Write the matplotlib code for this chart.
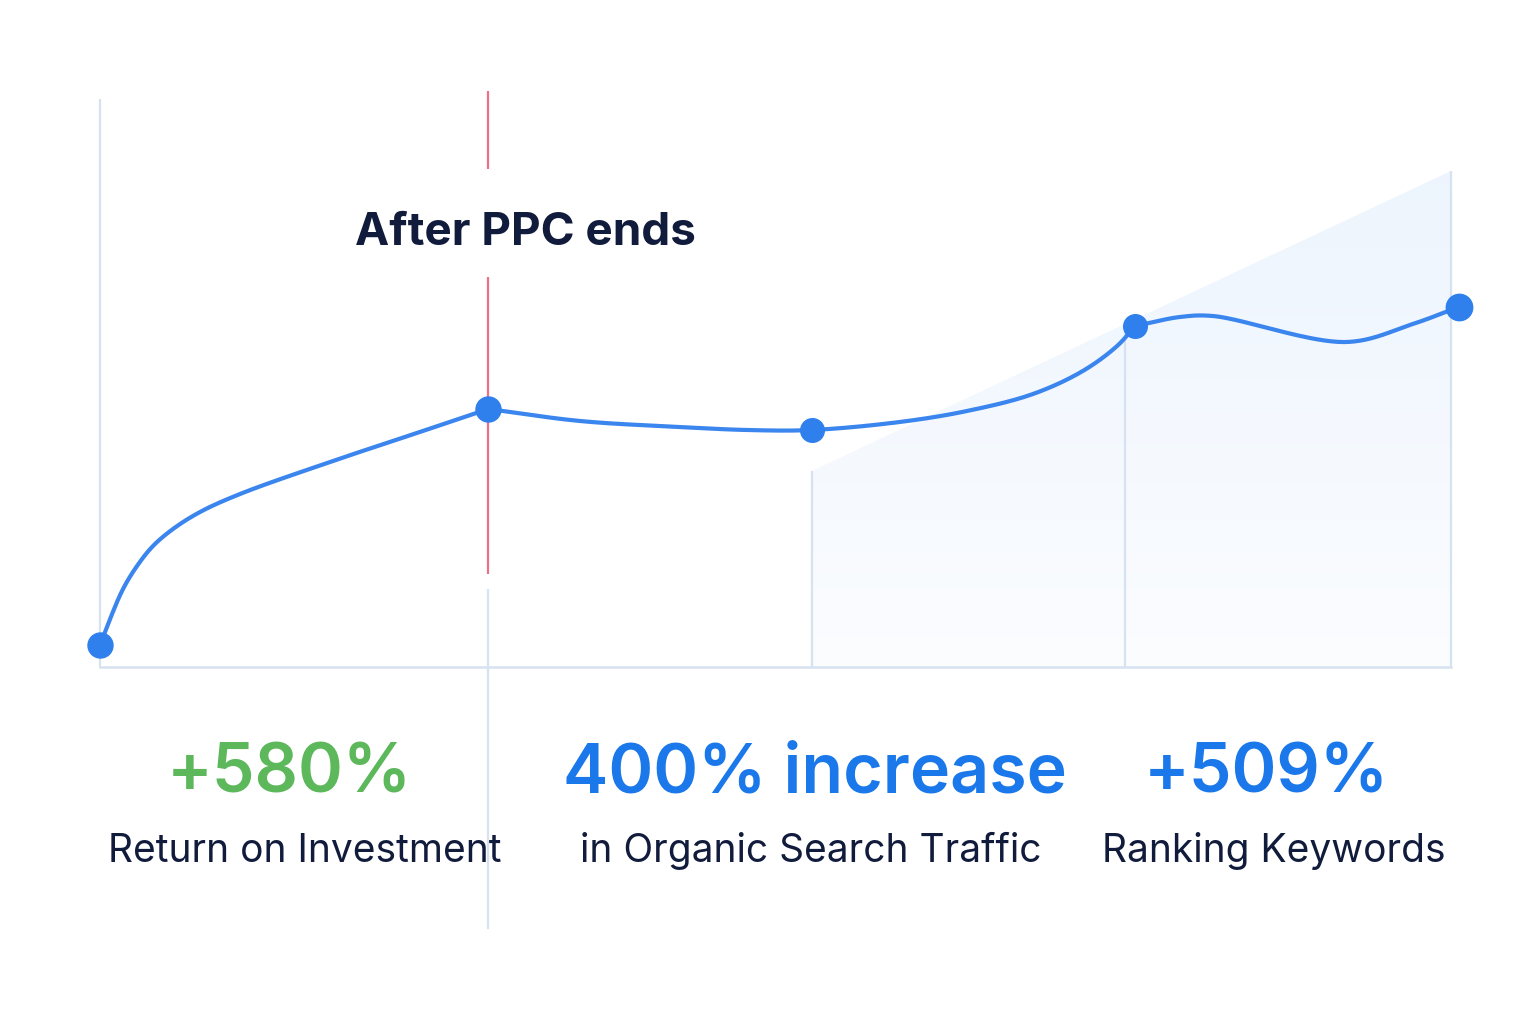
import numpy as np
import matplotlib
matplotlib.use('Agg')
import matplotlib.pyplot as plt
from matplotlib.patches import Polygon

''' data (x in months, y as traffic index)
'''
stage_x = [0, 6, 11, 16, 21]
stage_y = [5.5, 64.5, 59.25, 85.25, 90.0]
marker_sizes = [18, 18, 17, 17, 19]

# curve trace
curve_x = [0, 0.155, 0.356, 0.572, 0.819, 1.128, 1.546, 2.164, 3.555, 4.99, 6,
           7.42, 8.96, 10.0, 11, 12.36, 13.40, 14.42, 15.19, 15.72, 16,
           16.69, 17.2, 19.27, 20.29, 21]
curve_y = [5.5, 12.0, 19.5, 25.25, 30.25, 34.5, 38.75, 43.25, 51.25, 59.0, 64.5,
           61.5, 60.0, 59.25, 59.25, 61.25, 64.0, 68.25, 74.0, 80.25, 85.25,
           87.5, 87.75, 81.25, 85.75, 90.0]
# stages where the curve turns sharply
corner_x = [6, 16]

# projected organic trend (shaded area)
trend_x = [11, 20.88]
trend_y = [49.0, 124.0]

# gray guide lines: x, bottom, top
guide_x = [0, 6, 11, 15.85, 20.88]
guide_lo = [0, -65.5, 0, 0, 0]
guide_hi = [142, 19.5, 49.0, 84.5, 124.0]
baseline_span = [0, 20.88]

ppc_end_x = 6
ppc_segments = [(124.5, 144.0), (23.25, 97.5)]

stats = ['+580%', '400% increase', '+509%']
stat_colors = ['#5cb85a', '#1a78ea', '#1a78ea']
stat_x = [2.92, 11.05, 18.02]
captions = ['Return on Investment', 'in Organic Search Traffic', 'Ranking Keywords']
caption_x = [3.17, 10.99, 18.15]

plt.rcParams['font.family'] = ['Inter', 'DejaVu Sans']
NAVY = '#111b3b'
XS, YS = 64.7, 4.0  # px per data unit, used only to smooth in screen space


def catmull_rom(xs, ys, n=40, alpha=0.5):
  # centripetal catmull-rom, computed in screen-like space
  pts = np.column_stack([np.asarray(xs)*XS, np.asarray(ys)*YS])
  pts = np.vstack([2*pts[0]-pts[1], pts, 2*pts[-1]-pts[-2]])
  out = []
  for i in range(1, len(pts)-2):
    p0, p1, p2, p3 = pts[i-1], pts[i], pts[i+1], pts[i+2]
    t0 = 0.0
    t1 = t0 + np.linalg.norm(p1-p0)**alpha
    t2 = t1 + np.linalg.norm(p2-p1)**alpha
    t3 = t2 + np.linalg.norm(p3-p2)**alpha
    t = np.linspace(t1, t2, n)[:, None]
    a1 = (t1-t)/(t1-t0)*p0 + (t-t0)/(t1-t0)*p1
    a2 = (t2-t)/(t2-t1)*p1 + (t-t1)/(t2-t1)*p2
    a3 = (t3-t)/(t3-t2)*p2 + (t-t2)/(t3-t2)*p3
    b1 = (t2-t)/(t2-t0)*a1 + (t-t0)/(t2-t0)*a2
    b2 = (t3-t)/(t3-t1)*a2 + (t-t1)/(t3-t1)*a3
    out.append((t2-t)/(t2-t1)*b1 + (t-t1)/(t2-t1)*b2)
  res = np.vstack(out)
  return res[:, 0]/XS, res[:, 1]/YS


fig = plt.figure(figsize=(15.3, 10.12), dpi=100)
ax = fig.add_axes([0, 0, 1, 1])
ax.set_xlim(-100/XS, 1430/XS)
ax.set_ylim(-86, 167)
ax.axis('off')

# shaded trend area with vertical gradient
poly = Polygon([(trend_x[0], 0), (trend_x[0], trend_y[0]), (trend_x[1], trend_y[1]),
                (trend_x[1], 0)], closed=True, facecolor='none', edgecolor='none')
ax.add_patch(poly)
top_c = np.array([0.93, 0.96, 0.995])
bot_c = np.array([0.985, 0.99, 1.0])
g = np.linspace(0, 1, 256)[:, None]
grad = (top_c*(1-g) + bot_c*g)[:, None, :].repeat(2, axis=1)
im = ax.imshow(grad, extent=[trend_x[0], trend_x[1], 0, trend_y[1]], origin='upper',
               aspect='auto', zorder=1, interpolation='bilinear')
im.set_clip_path(poly)

# guide lines
for gx, lo, hi in zip(guide_x, guide_lo, guide_hi):
  ax.plot([gx, gx], [lo, hi], color='#d6e2f0', lw=1.6, zorder=2, solid_capstyle='butt')
ax.plot(baseline_span, [0, 0], color='#d6e2f0', lw=1.8, zorder=2)

# ppc end marker
for lo, hi in ppc_segments:
  ax.plot([ppc_end_x, ppc_end_x], [lo, hi], color='#ee7088', lw=1.6, zorder=3,
          solid_capstyle='butt')
ax.text(3.94, 105.75, 'After PPC ends', fontsize=33, fontweight='bold', color=NAVY,
        ha='left', va='baseline')

# traffic curve, smoothed piecewise between corners
cx = np.array(curve_x)
cy = np.array(curve_y)
cuts = [0] + [int(np.where(cx == c)[0][0]) for c in corner_x] + [len(cx)-1]
for a, b in zip(cuts[:-1], cuts[1:]):
  px, py = catmull_rom(cx[a:b+1], cy[a:b+1])
  ax.plot(px, py, color='#3a85ee', lw=3.0, zorder=4, solid_capstyle='round')
for sx, sy, ms in zip(stage_x, stage_y, marker_sizes):
  ax.plot(sx, sy, 'o', ms=ms, color='#2f7fed', mec='#2f7fed', zorder=5)

# stats
for s, c, x in zip(stats, stat_colors, stat_x):
  ax.text(x, -31.25, s, fontsize=49, fontweight='semibold', color=c, ha='center',
          va='baseline')
for s, x in zip(captions, caption_x):
  ax.text(x, -48.5, s, fontsize=28, color=NAVY, ha='center', va='baseline')

fig.savefig('out.png', dpi=100, facecolor='white')
